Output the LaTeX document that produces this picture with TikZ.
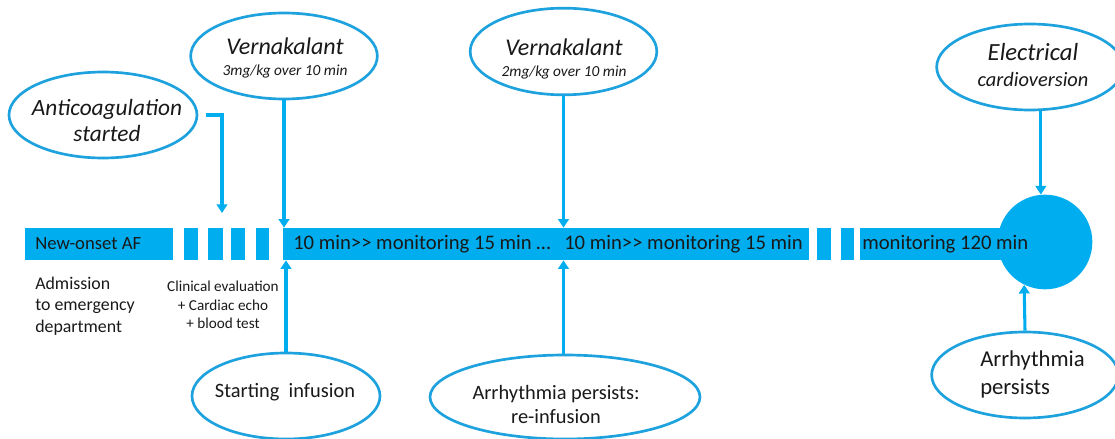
\documentclass[tikz,border=0pt]{standalone}
\usepackage{fontspec}
\setmainfont{Carlito}
\usetikzlibrary{arrows.meta,shapes.geometric}
\definecolor{afblue}{RGB}{0,174,239}
\definecolor{ovblue}{RGB}{30,162,222}
\definecolor{txt}{RGB}{25,25,25}
\newcommand\myfs[2]{\fontsize{#1}{#2}\selectfont}
\begin{document}
\begin{tikzpicture}[x=0.75pt,y=-0.75pt,
  bar/.style={fill=afblue, inner sep=0pt, minimum height=24pt, draw=none},
  oval/.style={ellipse, draw=ovblue, line width=2pt, fill=white, inner sep=0pt},
  arr/.style={draw=afblue, line width=2.3pt, -{Triangle[width=8pt,length=6.5pt]}},
  lbl/.style={text=txt, inner sep=0pt}
]
\useasboundingbox (0,0) rectangle (1115,439);

% timeline bar
\node[bar, minimum width=111pt] (seg1) at (99,244) {};
\node[bar, minimum width=10.5pt] (b1) at (191,244) {};
\node[bar, minimum width=11.25pt] (b2) at (215.5,244) {};
\node[bar, minimum width=10.5pt] (b3) at (238,244) {};
\node[bar, minimum width=9.75pt] (b4) at (262.5,244) {};
\node[bar, minimum width=394.5pt] (seg2) at (546,244) {};
\node[bar, minimum width=10.5pt] (b5) at (824,244) {};
\node[bar, minimum width=9.75pt] (b6) at (847.5,244) {};
\node[bar, minimum width=112.5pt] (seg3) at (935,244) {};
\node[circle, fill=afblue, inner sep=0pt, minimum size=71pt] (circ) at (1045,242) {};

% bar texts
\node[lbl, anchor=west, font=\myfs{14}{17}] (tAF) at (35,244) {New-onset AF};
\node[lbl, anchor=west, font=\myfs{15.5}{18}] (tmon1) at (293,244) {10 min>\kern0pt> monitoring 15 min …};
\node[lbl, anchor=west, font=\myfs{15.5}{18}] (tmon2) at (564,244) {10 min>\kern0pt> monitoring 15 min};
\node[lbl, anchor=west, font=\myfs{15.5}{18}] (tmon3) at (862,244) {monitoring 120 min};

% texts under bar
\node[lbl, anchor=west, align=left, font=\myfs{13.4}{16.1}] (tadm) at (35,306) {Admission\\to emergency\\department};
\node[lbl, align=center, font=\myfs{11.4}{13.9}] (tclin) at (223,305) {Clinical evaluation\\+ Cardiac echo\\+ blood test};

% ovals
\node[oval, minimum width=141pt, minimum height=64.5pt] (anti) at (103,115) {};
\node[lbl, align=center, font=\itshape\myfs{17.5}{19.5}] (antiT) at (107,120) {Anticoagulation\\started};

\node[oval, minimum width=140pt, minimum height=64.5pt] (vern1) at (284,56) {};
\node[lbl, align=center, font=\itshape\myfs{11.5}{16}] (vern1T) at (285,58) {{\myfs{18}{16}Vernakalant}\\3mg/kg over 10 min};

\node[oval, minimum width=140pt, minimum height=65pt] (vern2) at (563.5,51.5) {};
\node[lbl, align=center, font=\itshape\myfs{11.5}{16}] (vern2T) at (564,59) {{\myfs{18}{16}Vernakalant}\\2mg/kg over 10 min};

\node[oval, minimum width=140pt, minimum height=64.5pt] (elec) at (1030,67) {};
\node[lbl, align=center, font=\itshape\myfs{15.3}{19.5}] (elecT) at (1033,65) {{\myfs{18.5}{19.5}Electrical}\\cardioversion};

\node[oval, minimum width=141pt, minimum height=64.5pt] (start) at (286,396) {};
\node[lbl, font=\myfs{15.3}{18}] (startT) at (285,392) {Starting\ \ infusion};

\node[oval, minimum width=202.5pt, minimum height=63pt] (reinf) at (565,397) {};
\node[lbl, align=center, font=\myfs{15.3}{18}] (reinfT) at (556,404) {Arrhythmia persists:\\re-infusion};

\node[oval, minimum width=140pt, minimum height=64.5pt] (arrp) at (1025,375) {};
\node[lbl, anchor=west, align=left, font=\myfs{17}{21}] (arrpT) at (980,374) {Arrhythmia\\persists};

% connectors
\coordinate (antiend) at (222,213);
\draw[arr] ([xshift=6pt]anti.east) -| (antiend);
\draw[arr] (vern1.south) -- (vern1.south |- seg2.north);
\draw[arr] (start.north) -- (start.north |- seg2.south);
\draw[arr] (vern2.south) -- (vern2.south |- seg2.north);
\draw[arr] (reinf.north -| vern2.south) -- (vern2.south |- seg2.south);
\draw[arr] (elec.south -| circ.95) -- (circ.95);
\draw[arr] (arrp.north) -- (circ.-116);
\end{tikzpicture}
\end{document}
